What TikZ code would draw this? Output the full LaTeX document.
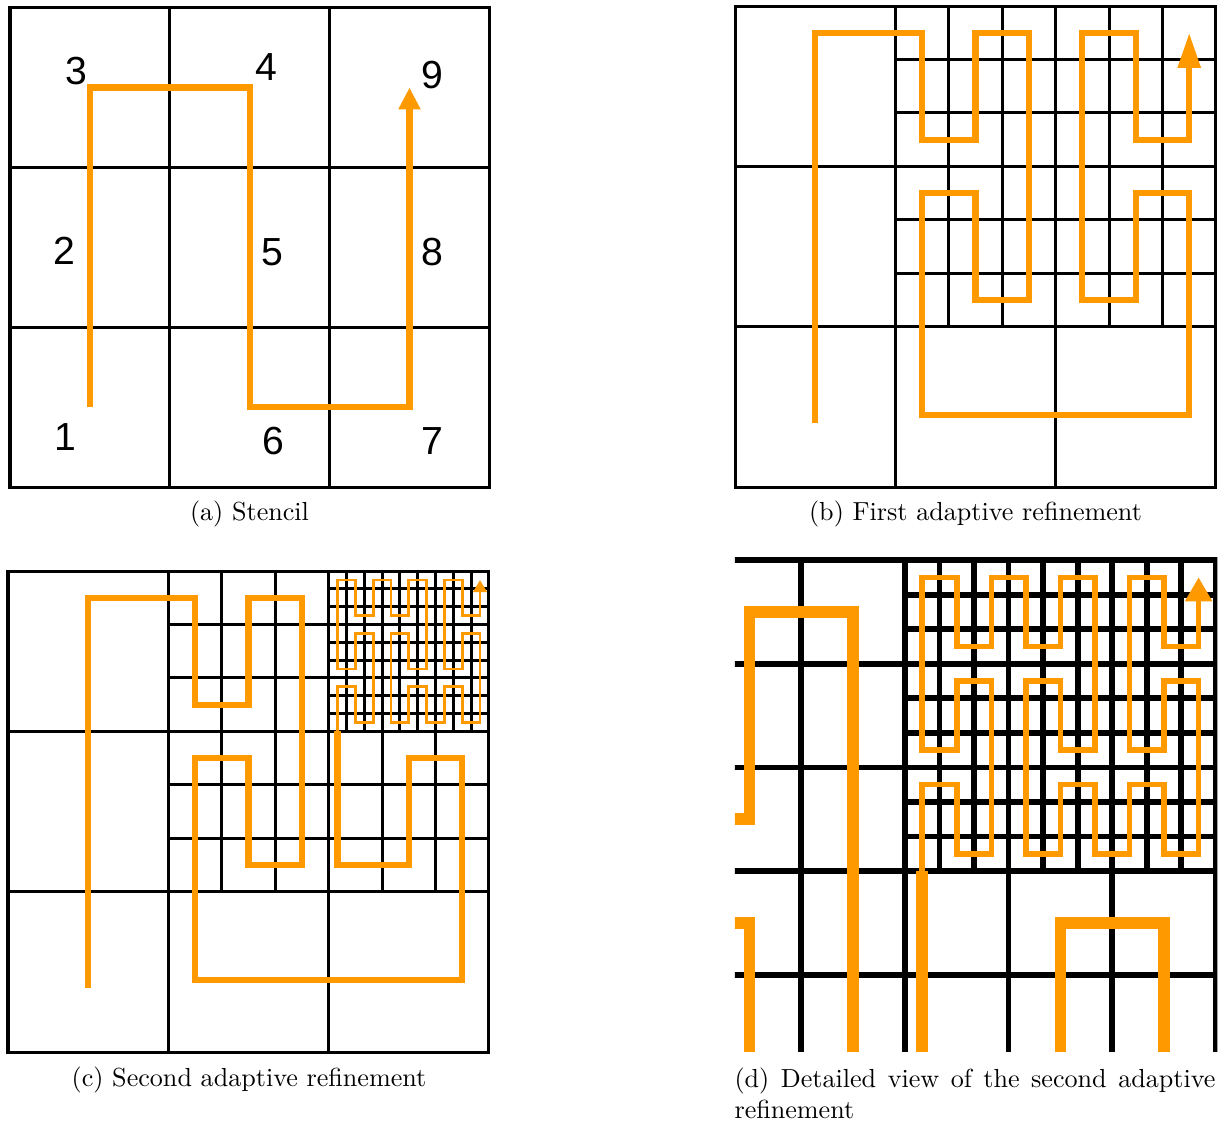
\documentclass[tikz,border=0pt]{standalone}
\usepackage{fontspec}
\newfontfamily\labelfont{Liberation Sans}
\usepackage{tikz}
\usetikzlibrary{arrows.meta}
\definecolor{sfc}{RGB}{255,153,0}
\tikzset{
    grid line/.style={line width=1.15pt},
    sfc thick/.style={draw=sfc,line width=2.4pt},
    sfc thin/.style={draw=sfc,line width=1.1pt},
    stencil tip/.style={-{Triangle[length=8.4pt,width=8pt]}},
    first tip/.style={-{Triangle[length=13.4pt,width=8.3pt]}},
    fine tip/.style={-{Triangle[length=4.7pt,width=5.2pt]}},
    cell label/.style={inner sep=0pt,font=\labelfont\fontsize{15}{18}\selectfont},
    caption/.style={inner sep=0pt,font=\normalsize}
}
% grid and curve of the second refinement, in cell units
\newcommand\secondrefinement{%
    \draw[grid line] (0,0) rectangle (3,3);
    \foreach \k in {1,2} {
        \draw[grid line] (\k,0) -- (\k,3);
        \draw[grid line] (0,\k) -- (3,\k);
    }
    \foreach \k in {1,2,4,5} {
        \draw[grid line] ({1+\k/3},1) -- ({1+\k/3},3);
        \draw[grid line] (1,{1+\k/3}) -- (3,{1+\k/3});
    }
    \foreach \k in {1,...,8} {
        \draw[grid line] ({2+\k/9},2) -- ({2+\k/9},3);
        \draw[grid line] (2,{2+\k/9}) -- (3,{2+\k/9});
    }
    \draw[sfc thick] (0.5,0.4) -- (0.5,17/6) -- (7/6,17/6) -- (7/6,13/6)
        -- (3/2,13/6) -- (3/2,17/6) -- (11/6,17/6) -- (11/6,7/6) -- (3/2,7/6)
        -- (3/2,11/6) -- (7/6,11/6) -- (7/6,0.45) -- (17/6,0.45) -- (17/6,11/6)
        -- (5/2,11/6) -- (5/2,7/6) -- (37/18,7/6) -- (37/18,2);
    % finest level, (column,row) counted from the top left
    \begin{scope}[shift={(37/18,53/18)},xscale=1/9,yscale=-1/9]
        \draw[sfc thin,fine tip] (0,8.5) -- (0,6) -- (1,6) -- (1,8) -- (2,8)
            -- (2,3) -- (1,3) -- (1,5) -- (0,5) -- (0,0) -- (1,0) -- (1,2)
            -- (2,2) -- (2,0) -- (3,0) -- (3,2) -- (4,2) -- (4,0) -- (5,0)
            -- (5,5) -- (4,5) -- (4,3) -- (3,3) -- (3,8) -- (4,8) -- (4,6)
            -- (5,6) -- (5,8) -- (6,8) -- (6,6) -- (7,6) -- (7,8) -- (8,8)
            -- (8,3) -- (7,3) -- (7,5) -- (6,5) -- (6,0) -- (7,0) -- (7,2)
            -- (8,2) -- (8,0);
    \end{scope}
}

\begin{document}
\begin{tikzpicture}[x=0.383pt,y=-0.383pt]
\useasboundingbox (0,0) rectangle (1231,1124);

% (a) stencil
\begin{scope}[shift={(10,487)},x=61.2pt,y=61.2pt]
    \draw[grid line] (0,0) rectangle (3,3);
    \foreach \k in {1,2} {
        \draw[grid line] (\k,0) -- (\k,3);
        \draw[grid line] (0,\k) -- (3,\k);
    }
    \draw[sfc thick,stencil tip] (0.5,0.5) -- (0.5,2.5) -- (1.5,2.5)
        -- (1.5,0.5) -- (2.5,0.5) -- (2.5,2.5);
\end{scope}
\foreach \i/\x/\y in {1/65/437,2/64/251,3/76/71,4/266/67,5/272/252,
                      6/273/441,7/432/441,8/432/252,9/432/75}
    \node[cell label] (lab\i) at (\x,\y) {\i};

% (b) first refinement
\begin{scope}[shift={(735,487)},x=61.4pt,y=61.4pt]
    \draw[grid line] (0,0) rectangle (3,3);
    \foreach \k in {1,2} {
        \draw[grid line] (\k,0) -- (\k,3);
        \draw[grid line] (0,\k) -- (3,\k);
    }
    \foreach \k in {1,2,4,5} {
        \draw[grid line] ({1+\k/3},1) -- ({1+\k/3},3);
        \draw[grid line] (1,{1+\k/3}) -- (3,{1+\k/3});
    }
    \draw[sfc thick,first tip] (0.5,0.4) -- (0.5,17/6) -- (7/6,17/6)
        -- (7/6,13/6) -- (3/2,13/6) -- (3/2,17/6) -- (11/6,17/6) -- (11/6,7/6)
        -- (3/2,7/6) -- (3/2,11/6) -- (7/6,11/6) -- (7/6,0.45) -- (17/6,0.45)
        -- (17/6,11/6) -- (5/2,11/6) -- (5/2,7/6) -- (13/6,7/6) -- (13/6,17/6)
        -- (5/2,17/6) -- (5/2,13/6) -- (17/6,13/6) -- (17/6,17/6);
\end{scope}

% (c) second refinement
\begin{scope}[shift={(8,1052)},x=61.4pt,y=61.4pt]
    \secondrefinement
\end{scope}

% (d) zoom on (c)
\begin{scope}[shift={(283,1493)},x=119.1pt,y=119.1pt,
    grid line/.style={line width=2.2pt},
    sfc thick/.style={draw=sfc,line width=4.5pt},
    sfc thin/.style={draw=sfc,line width=2.1pt},
    fine tip/.style={-{Triangle[length=9.2pt,width=10pt]}}]
    \clip (1.453,1.42) rectangle (3.005,3.008);
    \secondrefinement
\end{scope}

\node[caption,anchor=base] (capa) at (249.5,520) {(a) Stencil};
\node[caption,anchor=base] (capb) at (975.5,520) {(b) First adaptive refinement};
\node[caption,anchor=base] (capc) at (249,1086) {(c) Second adaptive refinement};
\node[caption,anchor=north west,text width=184.2pt,align=justify] (capd)
    at (734,1067) {(d) Detailed view of the second adaptive refinement};
\end{tikzpicture}
\end{document}
